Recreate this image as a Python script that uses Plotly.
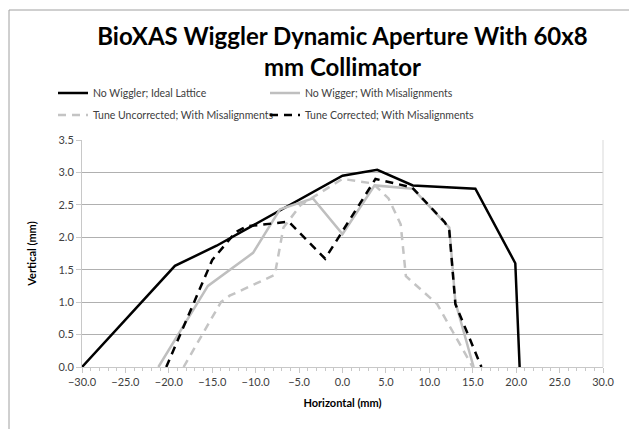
import plotly.graph_objects as go

# Dynamic aperture data (mm)
ideal_x = [-30, -19.3, -14.5, 0, 4, 8.1, 15.3, 19.9, 20.4]
ideal_y = [0, 1.56, 1.87, 2.95, 3.04, 2.8, 2.75, 1.6, 0]

misal_x = [-21.2, -15.5, -10.3, -7.2, -3.4, 0, 3.7, 8.1, 12.3, 13.0, 15.1]
misal_y = [0, 1.25, 1.76, 2.43, 2.6, 2.05, 2.8, 2.75, 2.15, 1.0, 0]

uncorr_x = [-18.3, -14, -13, -7.8, -6.8, -4.8, 0, 3.5, 5.3, 6.7, 7.3, 10.9, 15]
uncorr_y = [0, 1.0, 1.1, 1.42, 2.15, 2.5, 2.9, 2.83, 2.6, 2.2, 1.4, 0.97, 0]

corr_x = [-20.3, -15, -12.3, -11, -6.2, -2, 3.8, 8, 11.8, 12.3, 13, 16]
corr_y = [0, 1.65, 2.08, 2.17, 2.24, 1.67, 2.9, 2.77, 2.23, 2.1, 0.97, 0]

x_ticks = [-30, -25, -20, -15, -10, -5, 0, 5, 10, 15, 20, 25, 30]
y_ticks = [0, 0.5, 1.0, 1.5, 2.0, 2.5, 3.0, 3.5]

FONT = "Lato"
TXT = "#404040"
AXIS = "#c8c8c8"

fig = go.Figure()

fig.add_trace(go.Scatter(
    x=ideal_x, y=ideal_y, mode="lines",
    name="No Wiggler; Ideal Lattice",
    line=dict(color="black", width=2.5),
    legend="legend",
))
fig.add_trace(go.Scatter(
    x=misal_x, y=misal_y, mode="lines",
    name="No Wigger; With Misalignments",
    line=dict(color="#bfbfbf", width=2.5),
    legend="legend",
))
fig.add_trace(go.Scatter(
    x=uncorr_x, y=uncorr_y, mode="lines",
    name="Tune Uncorrected; With Misalignments",
    line=dict(color="#c4c4c4", width=2.5, dash="8px,6px"),
    legend="legend2",
))
fig.add_trace(go.Scatter(
    x=corr_x, y=corr_y, mode="lines",
    name="Tune Corrected; With Misalignments",
    line=dict(color="black", width=2.5, dash="8px,6px"),
    legend="legend2",
))

legend_common = dict(
    orientation="h",
    xref="container", yref="container",
    xanchor="left", yanchor="middle",
    entrywidth=167, entrywidthmode="pixels",
    font=dict(family=FONT, size=10.5, color=TXT),
    bgcolor="rgba(0,0,0,0)",
)

fig.update_layout(
    width=629, height=429,
    margin=dict(l=82, r=26, t=140, b=62, autoexpand=False),
    paper_bgcolor="white", plot_bgcolor="white",
    font=dict(family=FONT, color=TXT),
    title=dict(
        text="<b>BioXAS Wiggler Dynamic Aperture With 60x8<br>mm Collimator</b>",
        x=0.5, xref="paper", xanchor="center",
        y=1 - 45 / 429, yref="container", yanchor="middle",
        font=dict(family=FONT, size=24, color="black"),
        automargin=False,
    ),
    legend=dict(x=53 / 629, y=1 - 93 / 429, **legend_common),
    legend2=dict(x=53 / 629, y=1 - 115 / 429, **legend_common),
    xaxis=dict(
        range=[-30, 30], automargin=False,
        tickvals=x_ticks, tickformat=".1f",
        showgrid=False, zeroline=False,
        showline=True, linecolor=AXIS, linewidth=1,
        ticks="outside", ticklen=5, tickcolor=AXIS,
        minor=dict(dtick=1, ticks="outside", ticklen=3, tickcolor=AXIS),
        tickfont=dict(family=FONT, size=11, color=TXT),
        title=dict(text="<b>Horizontal (mm)</b>", standoff=12,
                   font=dict(family=FONT, size=11, color="black")),
    ),
    yaxis=dict(
        range=[0, 3.5], automargin=False,
        tickvals=y_ticks, tickformat=".1f",
        showgrid=True, gridcolor="#b0b0b0", gridwidth=1,
        zeroline=False,
        showline=True, linecolor=AXIS, linewidth=1,
        ticks="outside", ticklen=5, tickcolor=AXIS,
        tickfont=dict(family=FONT, size=11, color=TXT),
        title=dict(text="<b>Vertical (mm)</b>", standoff=19,
                   font=dict(family=FONT, size=11, color="black")),
    ),
    shapes=[
        # plot-area border on the right
        dict(type="line", xref="paper", yref="paper", x0=1, x1=1, y0=0, y1=1,
             line=dict(color="#d9d9d9", width=1)),
        # chart frame (top and left edges)
        dict(type="line", xref="paper", yref="paper",
             x0=(9 - 82) / 521, x1=(629 - 82) / 521,
             y0=(367 - 10) / 227, y1=(367 - 10) / 227,
             line=dict(color="#a0a0a0", width=1)),
        dict(type="line", xref="paper", yref="paper",
             x0=(9 - 82) / 521, x1=(9 - 82) / 521,
             y0=-62 / 227, y1=(367 - 10) / 227,
             line=dict(color="#a0a0a0", width=1)),
    ],
)

fig.write_html(
    "out.html",
    config={"displayModeBar": False},
    post_script="document.body.style.margin = '0';",
)
